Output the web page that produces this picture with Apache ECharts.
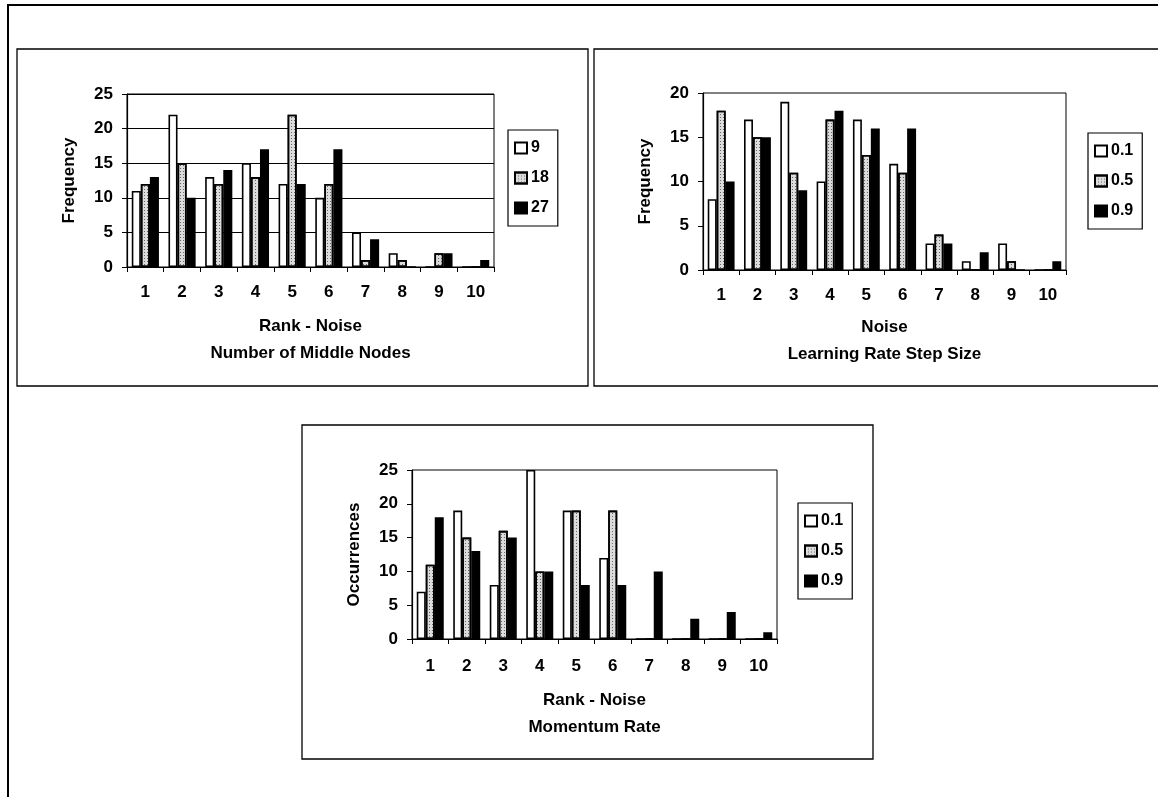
<!DOCTYPE html>
<html>
<head>
<meta charset="utf-8">
<script src="https://cdn.jsdelivr.net/npm/echarts@6/dist/echarts.min.js"></script>
<style>
html,body{margin:0;padding:0;background:#fff;}
#c{width:1158px;height:797px;}
</style>
</head>
<body>
<div id="c"></div>
<script>
// ---- data ----
const ranks = ['1','2','3','4','5','6','7','8','9','10'];

// Chart 1: Number of Middle Nodes
const nodesNames = ['9','18','27'];
const nodes9  = [11,22,13,15,12,10,5,2,0,0];
const nodes18 = [12,15,12,13,22,12,1,1,2,0];
const nodes27 = [13,10,14,17,12,17,4,0,2,1];

// Chart 2: Learning Rate Step Size
const lrNames = ['0.1','0.5','0.9'];
const lr01 = [8,17,19,10,17,12,3,1,3,0];
const lr05 = [18,15,11,17,13,11,4,0,1,0];
const lr09 = [10,15,9,18,16,16,3,2,0,1];

// Chart 3: Momentum Rate
const momNames = ['0.1','0.5','0.9'];
const mom01 = [7,19,8,25,19,12,0,0,0,0];
const mom05 = [11,15,16,10,19,19,0,0,0,0];
const mom09 = [18,13,15,10,8,8,10,3,4,1];

const yTicks1 = [0,5,10,15,20,25];
const yTicks2 = [0,5,10,15,20];
const yTicks3 = [0,5,10,15,20,25];

// ---- styles ----
const FONT = 'Liberation Sans, Arial, sans-serif';
const fills = ['#ffffff', '#dcdcdc', '#000000'];
const dots = { symbol: 'rect', symbolSize: 1, dashArrayX: [[1, 2]], dashArrayY: [1, 2], color: '#6a6a6a' };

function barSeries(name, data, idx, k) {
  const st = { color: fills[k], borderColor: '#000', borderWidth: 1.6 };
  if (k === 1) st.decal = dots;
  return {
    type: 'bar', name: name, data: data,
    xAxisIndex: idx, yAxisIndex: idx,
    barGap: '0%', barCategoryGap: '26%',
    itemStyle: st,
    emphasis: { disabled: true },
    animation: false
  };
}

function xAx(idx, name, gap, lblMargin) {
  return {
    type: 'category', gridIndex: idx, data: ranks,
    axisLine: { lineStyle: { color: '#000', width: 1.2 } },
    axisTick: { show: true, length: 5, lineStyle: { color: '#000' } },
    axisLabel: { color: '#000', fontSize: 17, fontWeight: 'bold', fontFamily: FONT, margin: lblMargin },
    name: name, nameLocation: 'middle', nameGap: gap,
    nameTextStyle: { color: '#000', fontSize: 17, fontWeight: 'bold', fontFamily: FONT, lineHeight: 27 }
  };
}

function yAx(idx, ticks, name, grid) {
  return {
    type: 'value', gridIndex: idx,
    min: ticks[0], max: ticks[ticks.length - 1], interval: ticks[1] - ticks[0],
    axisLine: { show: true, lineStyle: { color: '#000', width: 1.2 } },
    axisTick: { show: true, length: 5, lineStyle: { color: '#000' } },
    axisLabel: { color: '#000', fontSize: 17, fontWeight: 'bold', fontFamily: FONT, margin: 14 },
    splitLine: { show: grid, lineStyle: { color: '#000', width: 1 } },
    name: name, nameLocation: 'middle', nameGap: 49,
    nameTextStyle: { color: '#000', fontSize: 17, fontWeight: 'bold', fontFamily: FONT }
  };
}

function legend(names, left, top) {
  return {
    data: names, orient: 'vertical', left: left, top: top,
    itemWidth: 12, itemHeight: 11, itemGap: 14,
    padding: [10, 9, 10, 6],
    borderColor: '#000', borderWidth: 1.2, backgroundColor: '#fff',
    selectedMode: false,
    textStyle: { color: '#000', fontSize: 16, fontWeight: 'bold', fontFamily: FONT, padding: [0,0,0,-1] },
    icon: 'rect'
  };
}

const option = {
  animation: false,
  backgroundColor: '#fff',
  graphic: [
    { type: 'rect', shape: { x: 8, y: 5, width: 1170, height: 810 }, style: { fill: 'none', stroke: '#000', lineWidth: 2 }, silent: true },
    { type: 'rect', shape: { x: 17, y: 49, width: 571, height: 337 }, style: { fill: 'none', stroke: '#000', lineWidth: 1.3 }, silent: true },
    { type: 'rect', shape: { x: 594, y: 49, width: 600, height: 337 }, style: { fill: 'none', stroke: '#000', lineWidth: 1.3 }, silent: true },
    { type: 'rect', shape: { x: 302, y: 425, width: 571, height: 334 }, style: { fill: 'none', stroke: '#000', lineWidth: 1.3 }, silent: true }
  ],
  grid: [
    { left: 127, top: 94, width: 367, height: 173, show: true, borderColor: '#000', borderWidth: 1, backgroundColor: 'transparent' },
    { left: 703, top: 93, width: 363, height: 177, show: true, borderColor: '#000', borderWidth: 1, backgroundColor: 'transparent' },
    { left: 412, top: 470, width: 365, height: 169, show: true, borderColor: '#000', borderWidth: 1, backgroundColor: 'transparent' }
  ],
  xAxis: [
    xAx(0, 'Rank - Noise\nNumber of Middle Nodes', 46, 17),
    xAx(1, 'Noise\nLearning Rate Step Size', 44, 17),
    xAx(2, 'Rank - Noise\nMomentum Rate', 48, 19)
  ],
  yAxis: [
    yAx(0, yTicks1, 'Frequency', true),
    yAx(1, yTicks2, 'Frequency', false),
    yAx(2, yTicks3, 'Occurrences', false)
  ],
  legend: [
    legend(nodesNames, 508, 130),
    legend(lrNames, 1088, 133),
    legend(momNames, 798, 503)
  ],
  series: [
    barSeries(nodesNames[0], nodes9, 0, 0),
    barSeries(nodesNames[1], nodes18, 0, 1),
    barSeries(nodesNames[2], nodes27, 0, 2),
    barSeries(lrNames[0], lr01, 1, 0),
    barSeries(lrNames[1], lr05, 1, 1),
    barSeries(lrNames[2], lr09, 1, 2),
    barSeries(momNames[0], mom01, 2, 0),
    barSeries(momNames[1], mom05, 2, 1),
    barSeries(momNames[2], mom09, 2, 2)
  ]
};

const chart = echarts.init(document.getElementById('c'), null, { renderer: 'canvas' });
chart.setOption(option);
</script>
</body>
</html>
